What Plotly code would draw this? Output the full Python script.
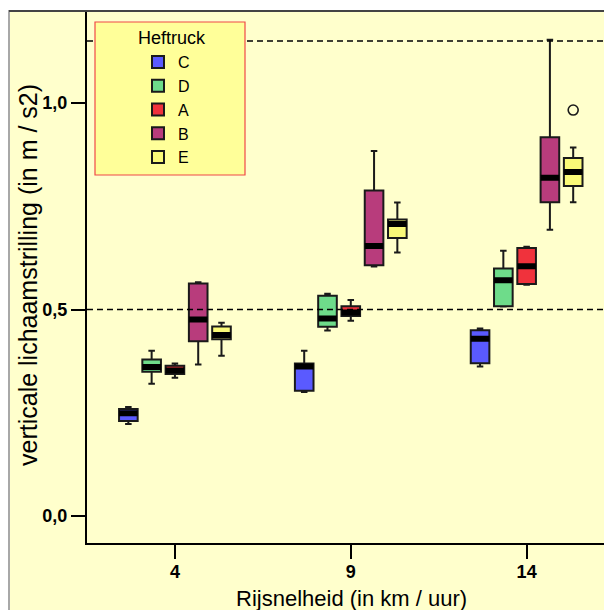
import plotly.graph_objects as go

# ---- data ----
SPEEDS = ["4", "9", "14"]
TRUCKS = ["C", "D", "A", "B", "E"]

C_LOW = [0.223, 0.300, 0.362]
C_Q1 = [0.230, 0.303, 0.370]
C_MED = [0.249, 0.362, 0.429]
C_Q3 = [0.259, 0.369, 0.450]
C_HIGH = [0.264, 0.400, 0.454]

D_LOW = [0.320, 0.449, 0.507]
D_Q1 = [0.349, 0.458, 0.508]
D_MED = [0.361, 0.478, 0.571]
D_Q3 = [0.379, 0.533, 0.599]
D_HIGH = [0.400, 0.538, 0.642]

A_LOW = [0.335, 0.473, 0.560]
A_Q1 = [0.344, 0.484, 0.562]
A_MED = [0.352, 0.493, 0.605]
A_Q3 = [0.364, 0.508, 0.649]
A_HIGH = [0.369, 0.523, 0.652]

B_LOW = [0.367, 0.604, 0.693]
B_Q1 = [0.423, 0.607, 0.760]
B_MED = [0.476, 0.654, 0.819]
B_Q3 = [0.563, 0.788, 0.917]
B_HIGH = [0.566, 0.884, 1.153]

E_LOW = [0.388, 0.638, 0.760]
E_Q1 = [0.428, 0.673, 0.799]
E_MED = [0.438, 0.707, 0.833]
E_Q3 = [0.459, 0.718, 0.867]
E_HIGH = [0.468, 0.759, 0.892]

OUTLIER_TRUCK = "E"
OUTLIER_SPEED = "14"
OUTLIER_VALUE = 0.983

REF_LINES = [0.5, 1.15]
Y_TICKS = [0.0, 0.5, 1.0]

STATS = {
    "C": (C_LOW, C_Q1, C_MED, C_Q3, C_HIGH),
    "D": (D_LOW, D_Q1, D_MED, D_Q3, D_HIGH),
    "A": (A_LOW, A_Q1, A_MED, A_Q3, A_HIGH),
    "B": (B_LOW, B_Q1, B_MED, B_Q3, B_HIGH),
    "E": (E_LOW, E_Q1, E_MED, E_Q3, E_HIGH),
}
COLORS = {"C": "#5A5AFF", "D": "#6EDC8A", "A": "#F0323C", "B": "#B83C7C", "E": "#FAFA78"}

# ---- figure ----
W, H = 604, 610
ML, MR, MT, MB = 87, 0, 11, 67
PW, PH = W - ML - MR, H - MT - MB
Y_RANGE = [-0.0654, 1.2228]
X_RANGE = [-0.5, 2.44]
BOXGAP, BOXGROUPGAP = 0.338, 0.2
BAND = 3.0 * (Y_RANGE[1] - Y_RANGE[0]) / PH  # half thickness of median bar (3 px)


def px_x(px):
    return (px - ML) / PW


def px_y(px):
    return (H - MB - px) / PH


fig = go.Figure()
for t in TRUCKS:
    low, q1, med, q3, high = STATS[t]
    fig.add_trace(go.Box(
        x=SPEEDS, q1=q1, median=med, q3=q3, lowerfence=low, upperfence=high,
        name=t, offsetgroup=t, legendgroup=t, boxpoints=False,
        fillcolor=COLORS[t], line=dict(color="#1a1a1a", width=2),
        whiskerwidth=0.35, hoverinfo="skip"))

# thick median bars
for t in TRUCKS:
    low, q1, med, q3, high = STATS[t]
    lo = [m - BAND for m in med]
    hi = [m + BAND for m in med]
    fig.add_trace(go.Box(
        x=SPEEDS, q1=lo, median=med, q3=hi, lowerfence=lo, upperfence=hi,
        name=t, offsetgroup=t, legendgroup=t, showlegend=False,
        fillcolor="#000000", line=dict(color="#000000", width=0),
        whiskerwidth=0, boxpoints=False, hoverinfo="skip"))

# outlier point, placed at the grouped box slot on an overlaid linear axis
n = len(TRUCKS)
slot = (TRUCKS.index(OUTLIER_TRUCK) + 0.5) / n - 0.5
ox = SPEEDS.index(OUTLIER_SPEED) + slot * (1 - BOXGAP)
fig.add_trace(go.Scatter(
    x=[ox], y=[OUTLIER_VALUE], xaxis="x2", mode="markers", showlegend=False,
    hoverinfo="skip",
    marker=dict(symbol="circle-open", size=10, color="#1a1a1a",
                line=dict(width=1.6, color="#1a1a1a"))))

shapes = [
    dict(type="rect", xref="paper", yref="paper", x0=px_x(9), x1=px_x(620),
         y0=px_y(630), y1=px_y(11), fillcolor="#FFFFCC",
         line=dict(color="#A8A8A8", width=2), layer="below"),
    dict(type="line", xref="paper", yref="paper", x0=px_x(9), x1=px_x(620),
         y0=1, y1=1, line=dict(color="#444444", width=2), layer="above"),
]
for v in REF_LINES:
    shapes.append(dict(type="line", xref="paper", yref="y", x0=0, x1=1, y0=v, y1=v,
                       line=dict(color="#000000", width=1.5, dash="6px,4px"), layer="above"))
shapes.append(dict(type="rect", xref="paper", yref="paper", x0=px_x(95), x1=px_x(245),
                   y0=px_y(175), y1=px_y(22), fillcolor="#FFFF99",
                   line=dict(color="#F04848", width=1.2), layer="above"))

FONT = "Liberation Sans, Arial, sans-serif"
annotations = [
    dict(text="Heftruck", xref="paper", yref="paper", x=px_x(172), y=px_y(38),
         showarrow=False, xanchor="center", yanchor="middle",
         font=dict(size=18, family=FONT, color="#000")),
    dict(text="Rijsnelheid (in km / uur)", xref="paper", yref="paper",
         x=px_x(351), y=px_y(599), showarrow=False, xanchor="center", yanchor="middle",
         font=dict(size=22, family=FONT, color="#000")),
    dict(text="verticale lichaamstrilling (in m / s2)", xref="paper", yref="paper",
         x=px_x(28), y=px_y(275), showarrow=False, textangle=-90,
         xanchor="center", yanchor="middle",
         font=dict(size=25, family=FONT, color="#000")),
]

fig.update_layout(
    width=W, height=H, autosize=False,
    margin=dict(l=ML, r=MR, t=MT, b=MB, pad=0),
    paper_bgcolor="#FFFFFF", plot_bgcolor="#FFFFCC",
    font=dict(family=FONT, color="#000"),
    separators=", ",
    boxmode="group", boxgap=BOXGAP, boxgroupgap=BOXGROUPGAP,
    shapes=shapes, annotations=annotations,
    legend=dict(x=px_x(138), xanchor="left", y=px_y(45), yanchor="top",
                bgcolor="rgba(0,0,0,0)", borderwidth=0, tracegroupgap=0,
                font=dict(size=16, family=FONT, color="#000")),
    xaxis=dict(type="category", range=X_RANGE, showline=True, linecolor="#000",
               linewidth=2, ticks="outside", ticklen=14, tickwidth=2, tickcolor="#000",
               showgrid=False, zeroline=False, ticklabelstandoff=-3,
               tickfont=dict(size=18, family=FONT, color="#000", weight="bold")),
    xaxis2=dict(overlaying="x", type="linear", range=X_RANGE, visible=False),
    yaxis=dict(range=Y_RANGE, tickvals=Y_TICKS, tickformat=".1f", showline=True,
               linecolor="#000", linewidth=2, ticks="outside", ticklen=14, tickwidth=2,
               tickcolor="#000", showgrid=False, zeroline=False,
               tickfont=dict(size=18, family=FONT, color="#000", weight="bold")),
)

fig.write_html(
    "out.html",
    config={"displayModeBar": False},
    post_script="document.body.style.margin='0';document.body.style.overflow='hidden';",
)
